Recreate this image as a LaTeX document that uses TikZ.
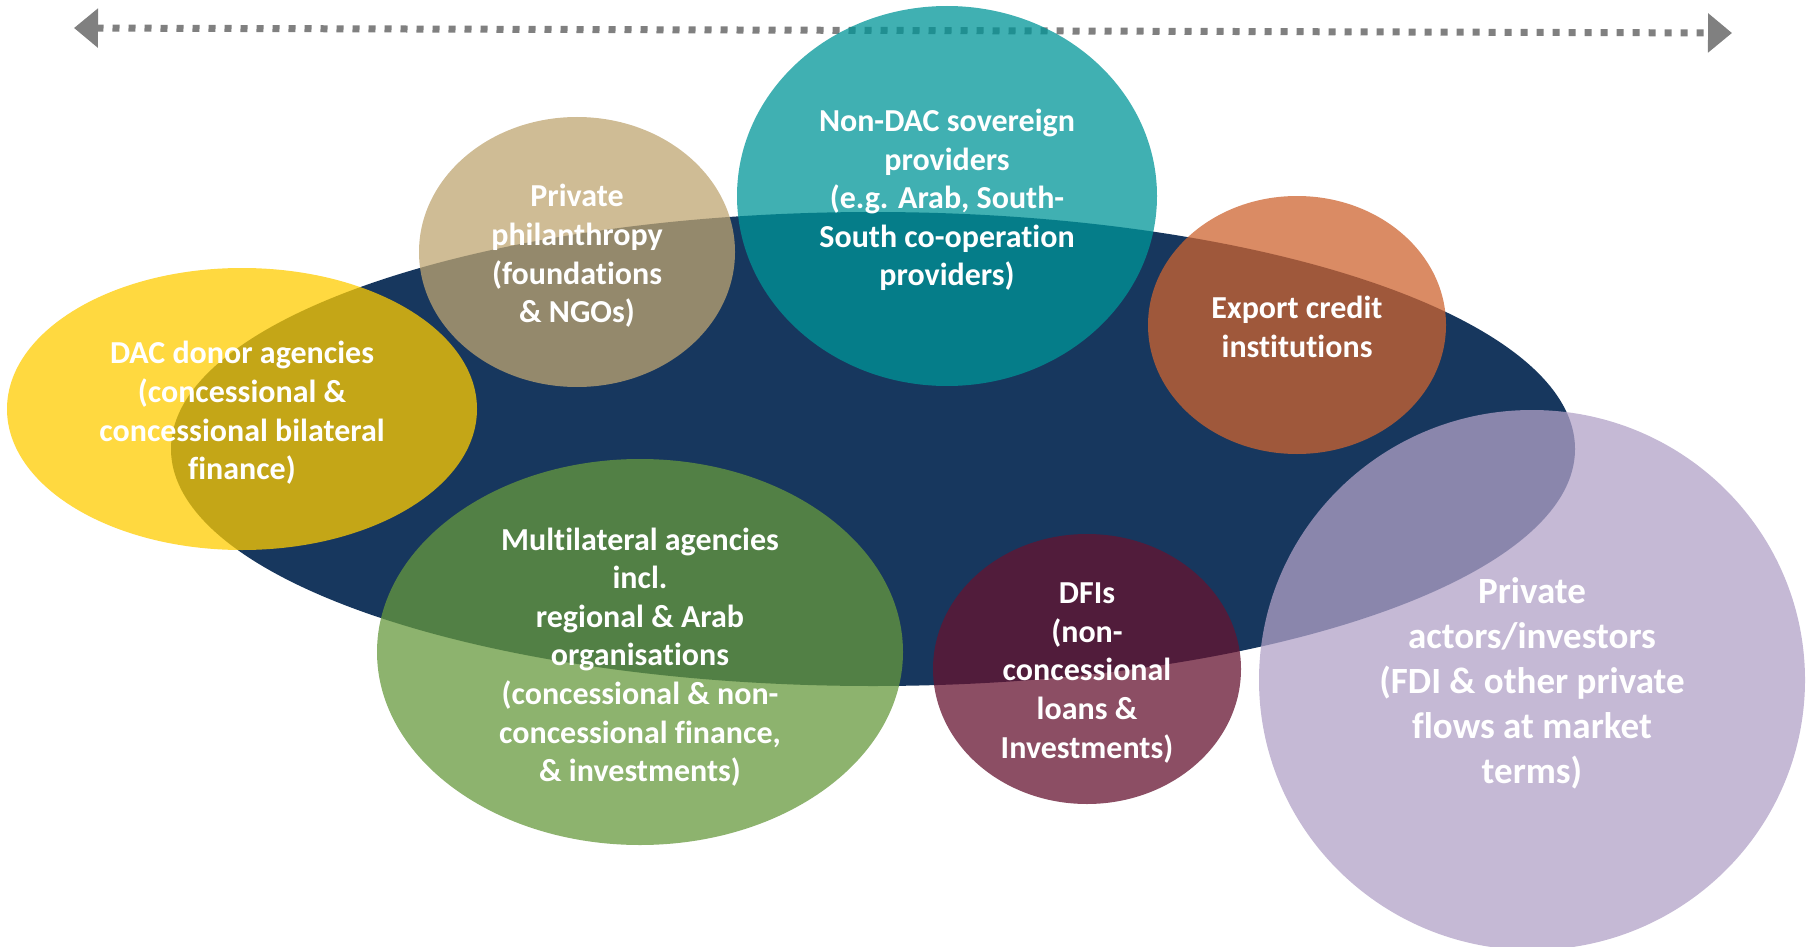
\documentclass[tikz,border=0pt]{standalone}
\usepackage{fontspec}
\setmainfont{Carlito}[Ligatures=NoCommon]
\usetikzlibrary{arrows.meta}
\definecolor{navy}{HTML}{17375E}
\definecolor{cyellow}{HTML}{FFCC00}
\definecolor{ctan}{HTML}{BFA571}
\definecolor{cteal}{HTML}{009598}
\definecolor{corange}{HTML}{CD6430}
\definecolor{cgreen}{HTML}{67993D}
\definecolor{cmaroon}{HTML}{651330}
\definecolor{clav}{HTML}{B1A1C7}
\definecolor{arrowgray}{HTML}{808080}
\begin{document}
\begin{tikzpicture}[x=1pt,y=-1pt,
  blob/.style={fill opacity=0.75},
  lbl/.style={text=white, font=\bfseries\fontsize{32}{38.6}\selectfont, align=center, inner sep=0pt},
  biglbl/.style={lbl, font=\bfseries\fontsize{37}{45}\selectfont},
  arr/.style={draw=arrowgray, line width=7pt, dash pattern=on 7pt off 9pt,
    {Triangle[length=24pt,width=38pt]}-{Triangle[length=24pt,width=38pt]}}]
\useasboundingbox (0,0) rectangle (1810,947);
% range arrow
\coordinate (L) at (74,28);
\coordinate (R) at (1732,33);
\draw[arr] (L) -- (R);
% central ellipse
\fill[navy] (873,449) ellipse [x radius=702pt, y radius=237pt];
% groups
\fill[cyellow, blob] (242,409) ellipse [x radius=235pt, y radius=141pt];
\fill[ctan, blob] (577,252) ellipse [x radius=158pt, y radius=135pt];
\fill[cteal, blob] (947,196) ellipse [x radius=210pt, y radius=190pt];
\fill[corange, blob] (1297,325) ellipse [x radius=149pt, y radius=129pt];
\fill[cgreen, blob] (640,652) ellipse [x radius=263pt, y radius=193pt];
\fill[cmaroon, blob] (1087,669) ellipse [x radius=154pt, y radius=135pt];
\fill[clav, blob] (1532,680) ellipse [x radius=273pt, y radius=270pt];
% labels
\node[lbl] (dac) at (242,413) {DAC donor agencies\\(concessional \&\\concessional bilateral\\finance)};
\node[lbl] (phil) at (577,256) {Private\\philanthropy\\(foundations\\\& NGOs)};
\node[lbl] (nondac) at (947,200) {Non-DAC sovereign\\providers\\(e.g. Arab, South-\\South co-operation\\providers)};
\node[lbl] (eci) at (1297,327) {Export credit\\institutions};
\node[lbl] (multi) at (640,657) {Multilateral agencies\\incl.\\regional \& Arab\\organisations\\(concessional \& non-\\concessional finance,\\\& investments)};
\node[lbl] (dfi) at (1087,673) {DFIs\\(non-\\concessional\\loans \&\\Investments)};
\node[biglbl] (priv) at (1532,683) {Private\\actors/investors\\(FDI \& other private\\flows at market\\terms)};
\end{tikzpicture}
\end{document}
